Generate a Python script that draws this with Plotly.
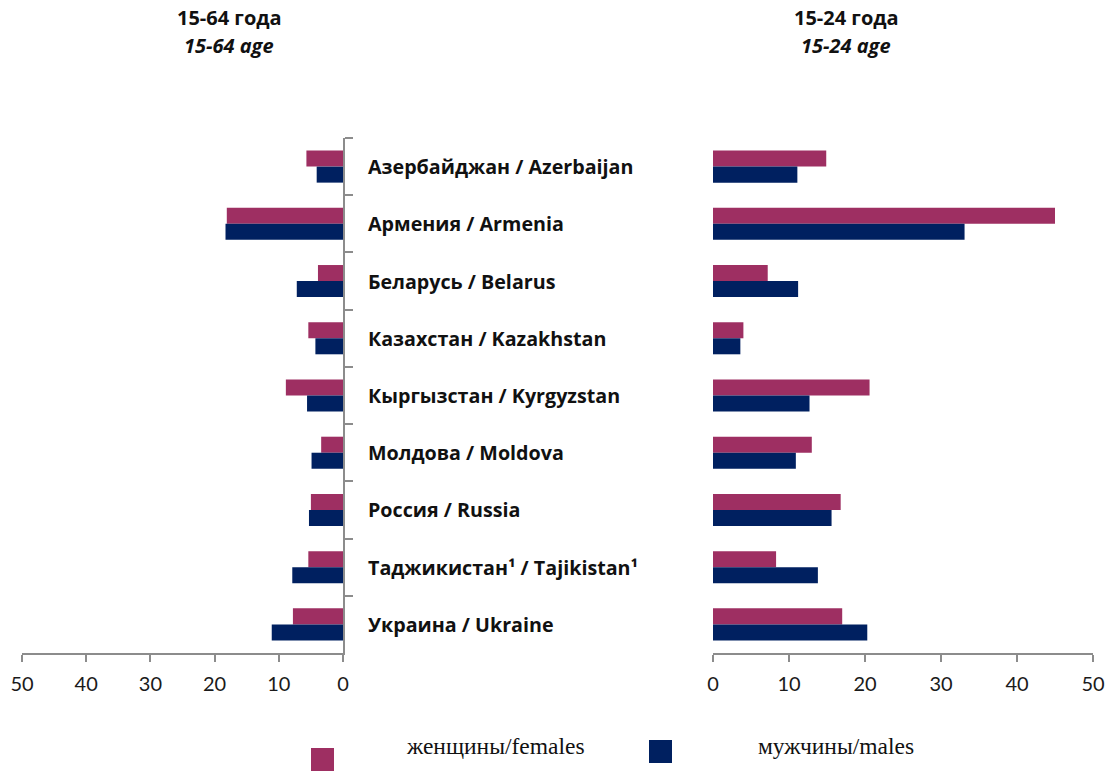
import plotly.graph_objects as go

countries = [
    "Азербайджан / Azerbaijan",
    "Армения / Armenia",
    "Беларусь / Belarus",
    "Казахстан / Kazakhstan",
    "Кыргызстан / Kyrgyzstan",
    "Молдова / Moldova",
    "Россия / Russia",
    "Таджикистан¹ / Tajikistan¹",
    "Украина / Ukraine",
]
females_15_64 = [5.7, 18.1, 3.9, 5.4, 8.9, 3.4, 5.0, 5.4, 7.8]
males_15_64 = [4.1, 18.3, 7.2, 4.3, 5.6, 4.9, 5.3, 7.9, 11.1]
females_15_24 = [14.9, 45.0, 7.2, 4.0, 20.6, 13.0, 16.8, 8.3, 17.0]
males_15_24 = [11.1, 33.1, 11.2, 3.6, 12.7, 10.9, 15.6, 13.8, 20.3]
x_ticks = [0, 10, 20, 30, 40, 50]
title_left = ["15-64 года", "15-64 age"]
title_right = ["15-24 года", "15-24 age"]
legend_labels = ["женщины/females", "мужчины/males"]

C_F = "#9E2F62"
C_M = "#002060"
W, H = 1108, 772

def px(x):
    return x / W

def py(y):
    return 1 - y / H

fig = go.Figure()
fig.add_trace(go.Bar(y=countries, x=females_15_64, orientation="h", marker=dict(color=C_F, line=dict(width=0)),
                     xaxis="x", yaxis="y", showlegend=False))
fig.add_trace(go.Bar(y=countries, x=males_15_64, orientation="h", marker=dict(color=C_M, line=dict(width=0)),
                     xaxis="x", yaxis="y", showlegend=False))
fig.add_trace(go.Bar(y=countries, x=females_15_24, orientation="h", marker=dict(color=C_F, line=dict(width=0)),
                     xaxis="x2", yaxis="y2", showlegend=False))
fig.add_trace(go.Bar(y=countries, x=males_15_24, orientation="h", marker=dict(color=C_M, line=dict(width=0)),
                     xaxis="x2", yaxis="y2", showlegend=False))

tickfont = dict(family="Lato, Open Sans, sans-serif", size=20, color="#1a1a1a")
axis_common = dict(tickvals=x_ticks, showgrid=False, zeroline=False, automargin=False,
                   showline=True, linecolor="#8c8c8c", linewidth=1.5,
                   ticks="outside", ticklen=7, tickcolor="#8c8c8c", tickwidth=1.5,
                   tickfont=tickfont, ticklabelstandoff=5, fixedrange=True)

ybot, ytop = py(653), py(138)
fig.update_layout(
    width=W, height=H,
    margin=dict(l=0, r=0, t=0, b=0, pad=0, autoexpand=False),
    paper_bgcolor="white", plot_bgcolor="white",
    barmode="group", bargap=0.44, bargroupgap=0,
    xaxis=dict(domain=[px(22), px(343)], anchor="y", range=[50, 0], **axis_common),
    xaxis2=dict(domain=[px(713), px(1093)], anchor="y2", range=[0, 50], **axis_common),
    yaxis=dict(domain=[ybot, ytop], anchor="x", side="right", autorange="reversed", automargin=False,
               showline=True, linecolor="#8c8c8c", linewidth=1.5,
               ticks="outside", ticklen=8, tickcolor="#8c8c8c", tickwidth=1.5,
               tickson="boundaries", showticklabels=False, showgrid=False, fixedrange=True),
    yaxis2=dict(domain=[ybot, ytop], anchor="x2", autorange="reversed", showline=False, automargin=False,
                showticklabels=False, ticks="", showgrid=False, fixedrange=True),
)

for c in countries:
    fig.add_annotation(x=px(366), xref="paper", y=c, yref="y", text=f"<b>{c}</b>",
                       showarrow=False, xanchor="left", yanchor="middle",
                       font=dict(family="Open Sans, sans-serif", size=19.7, color="#111"))

for cx, t in [(229, title_left), (846, title_right)]:
    fig.add_annotation(x=px(cx), xref="paper", y=py(18), yref="paper", text=f"<b>{t[0]}</b>",
                       showarrow=False, xanchor="center", yanchor="middle",
                       font=dict(family="Open Sans, sans-serif", size=20, color="#111"))
    fig.add_annotation(x=px(cx), xref="paper", y=py(46), yref="paper", text=f"<b><i>{t[1]}</i></b>",
                       showarrow=False, xanchor="center", yanchor="middle",
                       font=dict(family="Open Sans, sans-serif", size=20, color="#111"))

# legend
fig.add_shape(type="rect", xref="paper", yref="paper", x0=px(311), x1=px(334), y0=py(771), y1=py(748),
              fillcolor=C_F, line=dict(width=0))
fig.add_shape(type="rect", xref="paper", yref="paper", x0=px(649), x1=px(672), y0=py(763), y1=py(740),
              fillcolor=C_M, line=dict(width=0))
fig.add_annotation(x=px(404), xref="paper", y=py(746), yref="paper", text=legend_labels[0], showarrow=False,
                   xanchor="left", yanchor="middle",
                   font=dict(family="Liberation Serif, serif", size=23.5, color="#111"))
fig.add_annotation(x=px(756), xref="paper", y=py(746), yref="paper", text=legend_labels[1], showarrow=False,
                   xanchor="left", yanchor="middle",
                   font=dict(family="Liberation Serif, serif", size=23.5, color="#111"))

fig.write_html("out.html", config={"displayModeBar": False},
               post_script="document.body.style.margin='0';document.body.style.overflow='hidden';")
